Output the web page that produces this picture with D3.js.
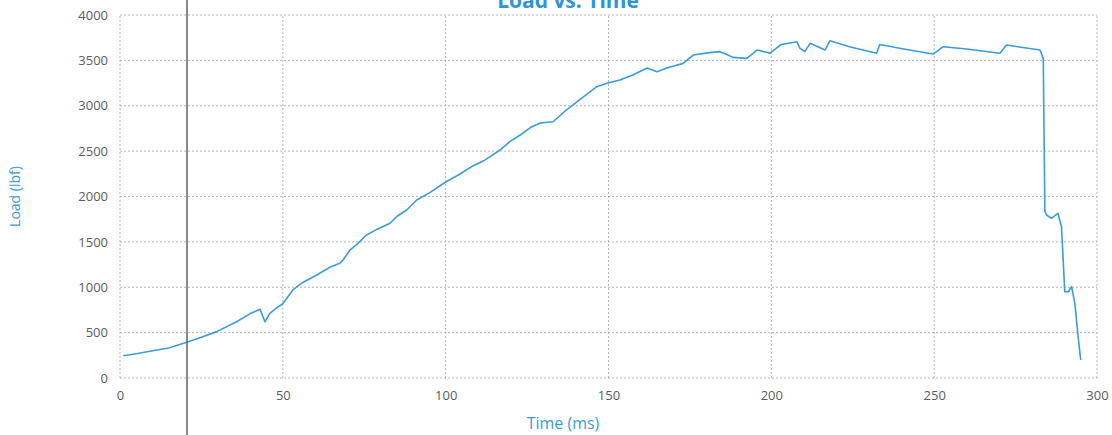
<!DOCTYPE html>
<html>
<head>
<meta charset="utf-8">
<script src="https://cdn.jsdelivr.net/npm/d3@7"></script>
<style>
  body { margin: 0; background: #fff; }
  svg { display: block; }
</style>
</head>
<body>
<svg id="chart" width="1112" height="435"></svg>
<script>
const fontFamily = `"Open Sans", Lato, sans-serif`;

// time in ms
const timeMs = [
  1, 5, 10, 15, 20.5, 25, 29.7, 35.8, 40, 43, 44.5, 46, 48, 50.1, 53.2, 56,
  60.4, 63, 65, 67.5, 68.5, 70.6, 73, 75.7, 79, 82.9, 85, 88, 91.1, 95, 100,
  104, 108, 112, 116.7, 119.7, 123, 126, 129, 133, 137, 141, 146.4, 149.5,
  153.5, 157.5, 161.8, 164.9, 167.9, 172.9, 176, 181, 184.2, 186, 188.2, 192.5,
  195.6, 199.6, 203, 206.2, 207.8, 208.8, 210.3, 211.9, 216.5, 218, 224, 232.3,
  233.3, 241.5, 249.7, 252.8, 260, 270.2, 272.2, 282.5, 283.5, 284, 284.5, 286,
  288, 289.1, 290.1, 291.2, 292.2, 293.2, 294.2, 295,
];

// load in lbf
const loadLbf = [
  245, 268, 300, 330, 395, 450, 511, 620, 710, 757, 620, 713, 770, 823, 975,
  1050, 1135, 1190, 1230, 1264, 1300, 1410, 1480, 1576, 1640, 1705, 1780, 1851,
  1961, 2040, 2160, 2240, 2330, 2400, 2512, 2604, 2680, 2760, 2810, 2824, 2953,
  3063, 3210, 3247, 3284, 3339, 3416, 3375, 3416, 3467, 3559, 3585, 3596, 3570,
  3533, 3522, 3614, 3580, 3675, 3695, 3706, 3633, 3596, 3688, 3614, 3717, 3651,
  3578, 3675, 3620, 3570, 3651, 3625, 3578, 3669, 3614, 3522, 1833, 1796, 1760,
  1815, 1667, 951, 951, 1006, 823, 455, 198,
];

const xTicks = [0, 50, 100, 150, 200, 250, 300];
const yTicks = [0, 500, 1000, 1500, 2000, 2500, 3000, 3500, 4000];

const blue = "#3b9cd9";
const margin = { top: 15, right: 15, bottom: 57, left: 120 };
const width = 1112;
const height = 435;

const svg = d3.select("#chart");

const x = d3.scaleLinear().domain([0, 300]).range([margin.left, width - margin.right]);
const y = d3.scaleLinear().domain([0, 4000]).range([height - margin.bottom, margin.top]);

// gridlines
const grid = svg.append("g")
  .attr("stroke", "#9ea3aa")
  .attr("stroke-width", 0.8)
  .attr("stroke-dasharray", "2,2");

grid.selectAll(".hgrid")
  .data(yTicks)
  .enter()
  .append("line")
  .attr("x1", x(0))
  .attr("x2", x(300))
  .attr("y1", (d) => y(d))
  .attr("y2", (d) => y(d));

grid.selectAll(".vgrid")
  .data(xTicks)
  .enter()
  .append("line")
  .attr("x1", (d) => x(d))
  .attr("x2", (d) => x(d))
  .attr("y1", y(0))
  .attr("y2", y(4000));

// axes, text only
const yAxis = svg.append("g")
  .attr("transform", `translate(${x(0) - 12},0)`)
  .call(d3.axisLeft(y).tickValues(yTicks).tickFormat(d3.format("d")).tickSize(0).tickPadding(0));
yAxis.select(".domain").remove();

const xAxis = svg.append("g")
  .attr("transform", `translate(0,${y(0) + 13})`)
  .call(d3.axisBottom(x).tickValues(xTicks).tickFormat(d3.format("d")).tickSize(0).tickPadding(0));
xAxis.select(".domain").remove();

svg.selectAll(".tick text")
  .attr("font-family", fontFamily)
  .attr("font-size", 13)
  .attr("fill", "#5a5d62");

// the load curve
const points = timeMs.map((t, i) => [t, loadLbf[i]]);
svg.append("path")
  .datum(points)
  .attr("fill", "none")
  .attr("stroke", blue)
  .attr("stroke-width", 1.6)
  .attr("stroke-linejoin", "round")
  .attr("d", d3.line().x((d) => x(d[0])).y((d) => y(d[1])));

// scan artifact: dark vertical fold line
svg.append("line")
  .attr("x1", 187)
  .attr("x2", 187)
  .attr("y1", 0)
  .attr("y2", height)
  .attr("stroke", "#4a4d52")
  .attr("stroke-width", 1.3);

// title, cut off at the top of the scan
svg.append("text")
  .attr("x", 568)
  .attr("y", 8)
  .attr("text-anchor", "middle")
  .attr("font-family", fontFamily)
  .attr("font-weight", "bold")
  .attr("font-size", 21)
  .attr("fill", "#2f93d8")
  .text("Load vs. Time");

svg.append("text")
  .attr("x", 563)
  .attr("y", 429)
  .attr("text-anchor", "middle")
  .attr("font-family", fontFamily)
  .attr("font-size", 16)
  .attr("fill", blue)
  .text("Time (ms)");

svg.append("text")
  .attr("transform", `translate(20,${(y(0) + y(4000)) / 2}) rotate(-90)`)
  .attr("text-anchor", "middle")
  .attr("font-family", fontFamily)
  .attr("font-size", 14)
  .attr("fill", blue)
  .text("Load (lbf)");
</script>
</body>
</html>
